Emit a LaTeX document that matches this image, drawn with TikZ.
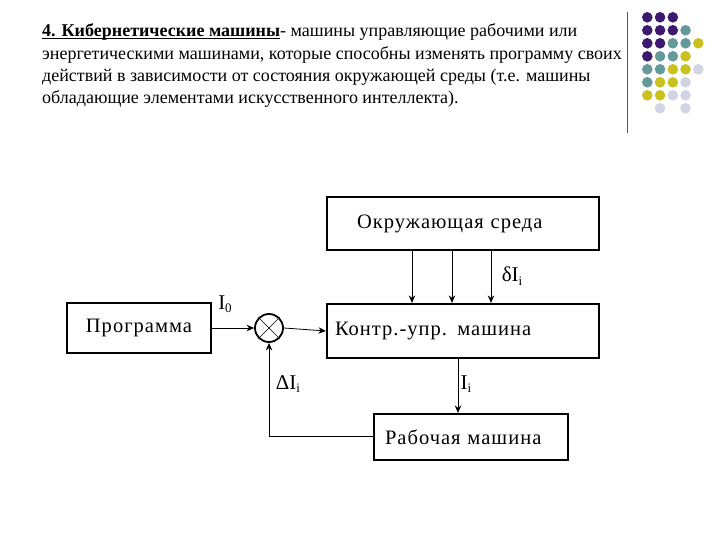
\documentclass[tikz,border=0pt]{standalone}
\usepackage{fontspec}
\setmainfont{Liberation Serif}
\newfontfamily\boxfont[LetterSpace=5]{Liberation Serif}
\usetikzlibrary{arrows.meta}
\definecolor{dpurple}{HTML}{3D1A6E}
\definecolor{dteal}{HTML}{66999A}
\definecolor{dyellow}{HTML}{C9C21E}
\definecolor{dlav}{HTML}{D3D3E6}
\newcommand{\subi}[1]{\raisebox{-0.35ex}{\fontsize{13}{13}\selectfont #1}}
\newcommand{\myul}[1]{{\setbox0\hbox{#1}\rlap{\rule[-2.2pt]{\wd0}{1.1pt}}\box0}}
\begin{document}
\begin{tikzpicture}[x=1pt,y=-1pt,
  box/.style={draw,line width=2.2pt,inner ysep=0pt,font=\boxfont\fontsize{20.5}{22}\selectfont},
  conn/.style={line width=0.8pt,-{Stealth[length=7.5pt,width=6.5pt]}},
  ttl/.style={anchor=base west,inner sep=0pt,font=\fontsize{18}{22}\selectfont},
  lbl/.style={inner sep=0pt,font=\fontsize{21}{22}\selectfont},
  dotp/.style={fill=dpurple},dott/.style={fill=dteal},doty/.style={fill=dyellow},dotl/.style={fill=dlav}]
\useasboundingbox (0,0) rectangle (720,540);
% title text
\node[ttl] (t1) at (42,37) {\myul{\textbf{4. Кибернетические машины}}- машины управляющие рабочими или};
\node[ttl] (t2) at (42,59.3) {энергетическими машинами, которые способны изменять программу своих};
\node[ttl] (t3) at (42,81.6) {действий в зависимости от состояния окружающей среды (т.е. машины};
\node[ttl] (t4) at (42,103.9) {обладающие элементами искусственного интеллекта).};
% separator line
\draw[line width=1pt,black!65] (627,12) -- (627,133);
% dots
\foreach \r/\row in {0/{p,p,p},1/{p,p,p,t},2/{p,p,t,t,y},3/{p,t,t,y},4/{t,t,y,y,l},5/{t,y,y,l},6/{y,y,l,l}}{
  \foreach \c [count=\k from 0] in \row {
    \fill[dot\c] (647.3+12.75*\k,17.3+13*\r) circle[radius=5.3];
  }
}
\fill[dotl] (660,108.3) circle[radius=5.3];
\fill[dotl] (685.5,108.3) circle[radius=5.3];
% boxes
\node[box,minimum height=53pt,inner xsep=30pt,text width=212pt,align=left] (env) at (463,223.5) {Окружающая среда};
\node[box,minimum height=54pt,inner xsep=8pt,text width=256pt,align=left] (ctrl) at (463,331) {Контр.-упр. машина};
\node[box,minimum height=50pt,minimum width=144pt] (prog) at (139,328) {Программа};
\node[box,minimum height=46pt,inner xsep=11pt,text width=172pt,align=left] (rab) at (471,437) {Рабочая машина};
\node[draw,circle,line width=1.8pt,minimum size=28pt,inner sep=0pt] (sum) at (269,328) {};
\draw[line width=0.5pt] (sum.north west) -- (sum.south east) (sum.north east) -- (sum.south west);
% coordinates
\coordinate (a1) at (412,0);
\coordinate (a2) at (452,0);
\coordinate (a3) at (491,0);
\coordinate (a4) at (458,0);
\coordinate (fb) at (269,436);
% connectors
\draw[conn] (prog.east) -- (sum.west);
\draw[conn] (sum.east) -- (ctrl.west);
\draw[conn] (env.south -| a1) -- (ctrl.north -| a1);
\draw[conn] (env.south -| a2) -- (ctrl.north -| a2);
\draw[conn] (env.south -| a3) -- (ctrl.north -| a3);
\draw[conn] (ctrl.south -| a4) -- (rab.north -| a4);
\draw[conn] (rab.west |- fb) -- (fb) -- (sum.south);
% labels
\node[lbl] (l0) at (225,304) {I\subi{0}};
\node[lbl] (ld) at (512,276) {δI\subi{i}};
\node[lbl] (lD) at (288,384) {ΔI\subi{i}};
\node[lbl] (li) at (466,384) {I\subi{i}};
\end{tikzpicture}
\end{document}
